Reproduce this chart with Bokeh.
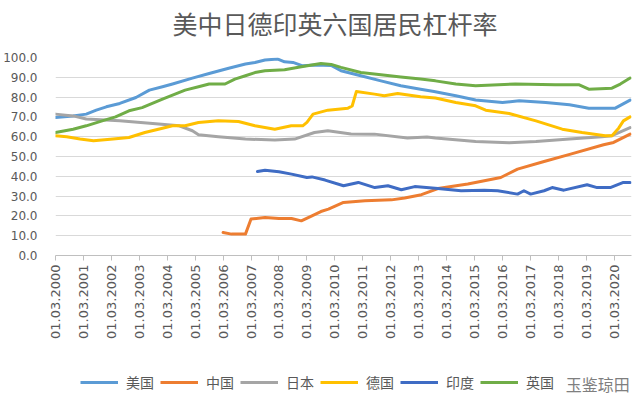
import math
from bokeh.plotting import figure
from bokeh.layouts import column
from bokeh.models import (FixedTicker, Legend, LegendItem, Range1d,
                          NumeralTickFormatter, Label)
from bokeh.embed import file_html
from bokeh.resources import INLINE

# ---------------- data ----------------
title_text = "美中日德印英六国居民杠杆率"
watermark_text = "玉鉴琼田"

tick_years = [2000, 2001, 2002, 2003, 2004, 2005, 2006, 2007, 2008, 2009, 2010,
              2011, 2012, 2013, 2014, 2015, 2016, 2017, 2018, 2019, 2020]
tick_labels = ["01.03.2000", "01.03.2001", "01.03.2002", "01.03.2003", "01.03.2004",
               "01.03.2005", "01.03.2006", "01.03.2007", "01.03.2008", "01.03.2009",
               "01.03.2010", "01.03.2011", "01.03.2012", "01.03.2013", "01.03.2014",
               "01.03.2015", "01.03.2016", "01.03.2017", "01.03.2018", "01.03.2019",
               "01.03.2020"]
y_ticks = [0, 10, 20, 30, 40, 50, 60, 70, 80, 90, 100]

us_t = [2000.0, 2000.63, 2001.1, 2001.46, 2001.82, 2002.3, 2002.88, 2003.36, 2003.83,
        2004.19, 2004.9, 2005.5, 2006.2, 2006.8, 2007.14, 2007.5, 2007.96, 2008.2,
        2008.5, 2008.85, 2009.3, 2009.87, 2010.22, 2010.93, 2011.65, 2012.36, 2013.07,
        2013.55, 2014.33, 2015.04, 2016.0, 2016.6, 2017.55, 2018.4, 2019.09, 2020.04,
        2020.57]
us_v = [69.7, 70.5, 71.4, 73.4, 75.1, 76.8, 79.8, 83.5, 85.2,
        86.6, 89.6, 91.9, 94.6, 96.7, 97.5, 98.7, 99.2, 97.8,
        97.5, 95.8, 96.2, 96.0, 93.3, 90.8, 88.2, 85.7, 84.0,
        82.8, 80.7, 78.5, 77.3, 78.1, 77.3, 76.1, 74.4, 74.4,
        78.5]

cn_t = [2006.0, 2006.3, 2006.8, 2007.0, 2007.5, 2008.0, 2008.45, 2008.8, 2009.18,
        2009.5, 2009.77, 2010.31, 2011.08, 2012.03, 2012.5, 2013.1, 2013.69, 2014.76,
        2015.94, 2016.54, 2017.49, 2018.44, 2019.62, 2019.98, 2020.57]
cn_v = [11.6, 10.8, 10.8, 18.4, 19.2, 18.7, 18.7, 17.5, 20.0,
        22.2, 23.4, 26.8, 27.6, 28.1, 29.0, 30.7, 33.8, 36.1,
        39.4, 43.6, 47.5, 51.2, 55.9, 57.1, 61.3]

jp_t = [2000.0, 2000.63, 2001.1, 2002.3, 2003.48, 2004.43, 2004.9, 2005.12, 2005.83,
        2006.8, 2007.85, 2008.56, 2009.27, 2009.75, 2010.58, 2011.42, 2012.6, 2013.3,
        2013.6, 2015.04, 2016.24, 2017.2, 2018.4, 2019.56, 2019.92, 2020.57]
jp_v = [71.4, 70.5, 68.9, 68.0, 66.7, 65.5, 63.0, 61.0, 60.0,
        58.8, 58.3, 58.8, 62.1, 63.0, 61.4, 61.3, 59.3, 59.8,
        59.3, 57.6, 57.0, 57.6, 58.8, 60.0, 60.5, 64.6]

de_t = [2000.0, 2000.4, 2000.88, 2001.36, 2002.06, 2002.63, 2003.2, 2003.83, 2004.19,
        2004.64, 2005.12, 2005.83, 2006.55, 2007.14, 2007.85, 2008.44, 2008.85, 2009.0,
        2009.22, 2009.75, 2010.47, 2010.62, 2010.77, 2011.42, 2011.77, 2012.25, 2013.07,
        2013.6, 2014.33, 2015.04, 2015.4, 2016.24, 2017.2, 2018.14, 2018.85, 2019.68,
        2019.92, 2020.16, 2020.33, 2020.57]
de_v = [60.5, 60.0, 58.8, 57.9, 58.8, 59.6, 62.1, 64.3, 65.5,
        65.5, 67.2, 68.0, 67.7, 65.5, 63.8, 65.5, 65.5, 67.2,
        71.4, 73.4, 74.4, 75.5, 82.8, 81.5, 80.7, 81.8, 80.2,
        79.5, 77.3, 75.6, 73.4, 71.7, 68.0, 63.8, 62.1, 60.5,
        60.5, 64.3, 68.0, 70.0]

in_t = [2007.23, 2007.5, 2008.0, 2008.45, 2009.0, 2009.18, 2009.65, 2010.31, 2010.84,
        2011.43, 2011.9, 2012.38, 2012.86, 2013.69, 2014.52, 2015.35, 2015.83, 2016.54,
        2016.77, 2017.01, 2017.49, 2017.78, 2018.2, 2019.03, 2019.39, 2019.86, 2020.33,
        2020.57]
in_v = [42.4, 43.1, 42.3, 41.1, 39.4, 39.7, 38.1, 35.2, 36.9,
        34.3, 35.2, 33.2, 34.8, 33.8, 32.7, 33.0, 32.7, 31.0,
        32.7, 31.0, 32.7, 34.3, 33.0, 35.7, 34.3, 34.3, 36.9,
        36.9]

uk_t = [2000.0, 2000.63, 2001.1, 2001.67, 2002.15, 2002.63, 2003.1, 2003.83, 2004.64,
        2005.12, 2005.5, 2006.07, 2006.42, 2006.8, 2007.14, 2007.5, 2008.2, 2008.8,
        2009.5, 2009.87, 2010.22, 2010.93, 2011.65, 2012.36, 2013.07, 2013.6, 2014.33,
        2015.04, 2016.46, 2017.89, 2018.73, 2019.09, 2019.92, 2020.22, 2020.57]
uk_v = [62.1, 63.8, 65.5, 68.0, 70.0, 73.1, 74.7, 79.0, 83.5,
        85.2, 86.6, 86.6, 89.1, 90.8, 92.4, 93.3, 93.8, 95.3,
        97.0, 96.5, 95.0, 92.4, 91.3, 90.2, 89.1, 88.2, 86.6,
        85.7, 86.6, 86.3, 86.3, 84.0, 84.5, 86.6, 89.6]

series = [
    ("美国", us_t, us_v, "#5B9BD5"),
    ("中国", cn_t, cn_v, "#ED7D31"),
    ("日本", jp_t, jp_v, "#A5A5A5"),
    ("德国", de_t, de_v, "#FFC000"),
    ("印度", in_t, in_v, "#3F6CC4"),
    ("英国", uk_t, uk_v, "#70AD47"),
]

CJK = "Noto Sans CJK SC"
TXT = "#595959"
W = 640
FRAME_W = 579  # 52 .. 631 px


def strip(height):
    f = figure(width=W, height=height, output_backend="svg", toolbar_location=None,
               x_range=Range1d(0, FRAME_W), y_range=Range1d(0, height),
               x_axis_type=None, y_axis_type=None,
               min_border_left=52, min_border_right=9, min_border_top=0,
               min_border_bottom=0)
    f.outline_line_color = None
    f.xgrid.grid_line_color = None
    f.ygrid.grid_line_color = None
    f.background_fill_color = "white"
    f.border_fill_color = "white"
    return f


# ---------------- title strip ----------------
p0 = strip(45)
p0.add_layout(Label(x=281, y=23, text=title_text, text_font=CJK,
                    text_font_size="25px", text_color=TXT,
                    text_align="center", text_baseline="middle"))

# ---------------- main figure ----------------
p = figure(width=W, height=305, output_backend="svg", toolbar_location=None,
           x_range=Range1d(2000, 2020.62), y_range=Range1d(0, 100),
           min_border_left=52, min_border_right=9, min_border_top=12,
           min_border_bottom=95)
p.outline_line_color = None
p.background_fill_color = "white"
p.border_fill_color = "white"

# y axis
p.yaxis.ticker = FixedTicker(ticks=y_ticks)
p.yaxis.formatter = NumeralTickFormatter(format="0.0")
p.yaxis.axis_line_color = None
p.yaxis.major_tick_line_color = None
p.yaxis.minor_tick_line_color = None
p.yaxis.major_label_text_font = "DejaVu Sans"
p.yaxis.major_label_text_font_size = "12px"
p.yaxis.major_label_text_color = TXT
p.yaxis.major_label_standoff = 12
p.ygrid.ticker = FixedTicker(ticks=y_ticks)
p.ygrid.grid_line_color = "#d9d9d9"
p.ygrid.grid_line_width = 1

# x axis
p.xaxis.ticker = FixedTicker(ticks=tick_years)
p.xaxis.major_label_overrides = {yr: lab for yr, lab in zip(tick_years, tick_labels)}
p.xaxis.major_label_orientation = math.pi / 2
p.xaxis.axis_line_color = "#bfbfbf"
p.xaxis.major_tick_line_color = "#bfbfbf"
p.xaxis.major_tick_out = 5
p.xaxis.major_tick_in = 0
p.xaxis.minor_tick_line_color = None
p.xaxis.major_label_text_font = "DejaVu Sans"
p.xaxis.major_label_text_font_size = "13px"
p.xaxis.major_label_text_color = TXT
p.xaxis.major_label_standoff = 4
p.xgrid.grid_line_color = None

for name, t, v, col in series:
    p.line(t, v, line_color=col, line_width=3, line_join="round", line_cap="round")

# ---------------- legend strip (same series, shown only as legend keys) ----------------
p2 = strip(44)
items = []
for name, t, v, col in series:
    r = p2.line(t, v, line_color=col, line_width=3)
    items.append(LegendItem(label=name, renderers=[r]))

legend = Legend(items=items, orientation="horizontal", location=(25, 2),
                glyph_width=38, glyph_height=14, label_height=14,
                label_standoff=8, spacing=6, padding=2, margin=0,
                label_text_font=CJK, label_text_font_size="14px",
                label_text_color=TXT, border_line_color=None,
                background_fill_alpha=0)
p2.add_layout(legend, "center")

p2.add_layout(Label(x=513, y=11, text=watermark_text, text_font=CJK,
                    text_font_size="16px", text_color="#7f7f7f",
                    text_baseline="middle", text_align="left"))

open("out.html", "w").write(file_html(column(p0, p, p2, spacing=0), INLINE))
